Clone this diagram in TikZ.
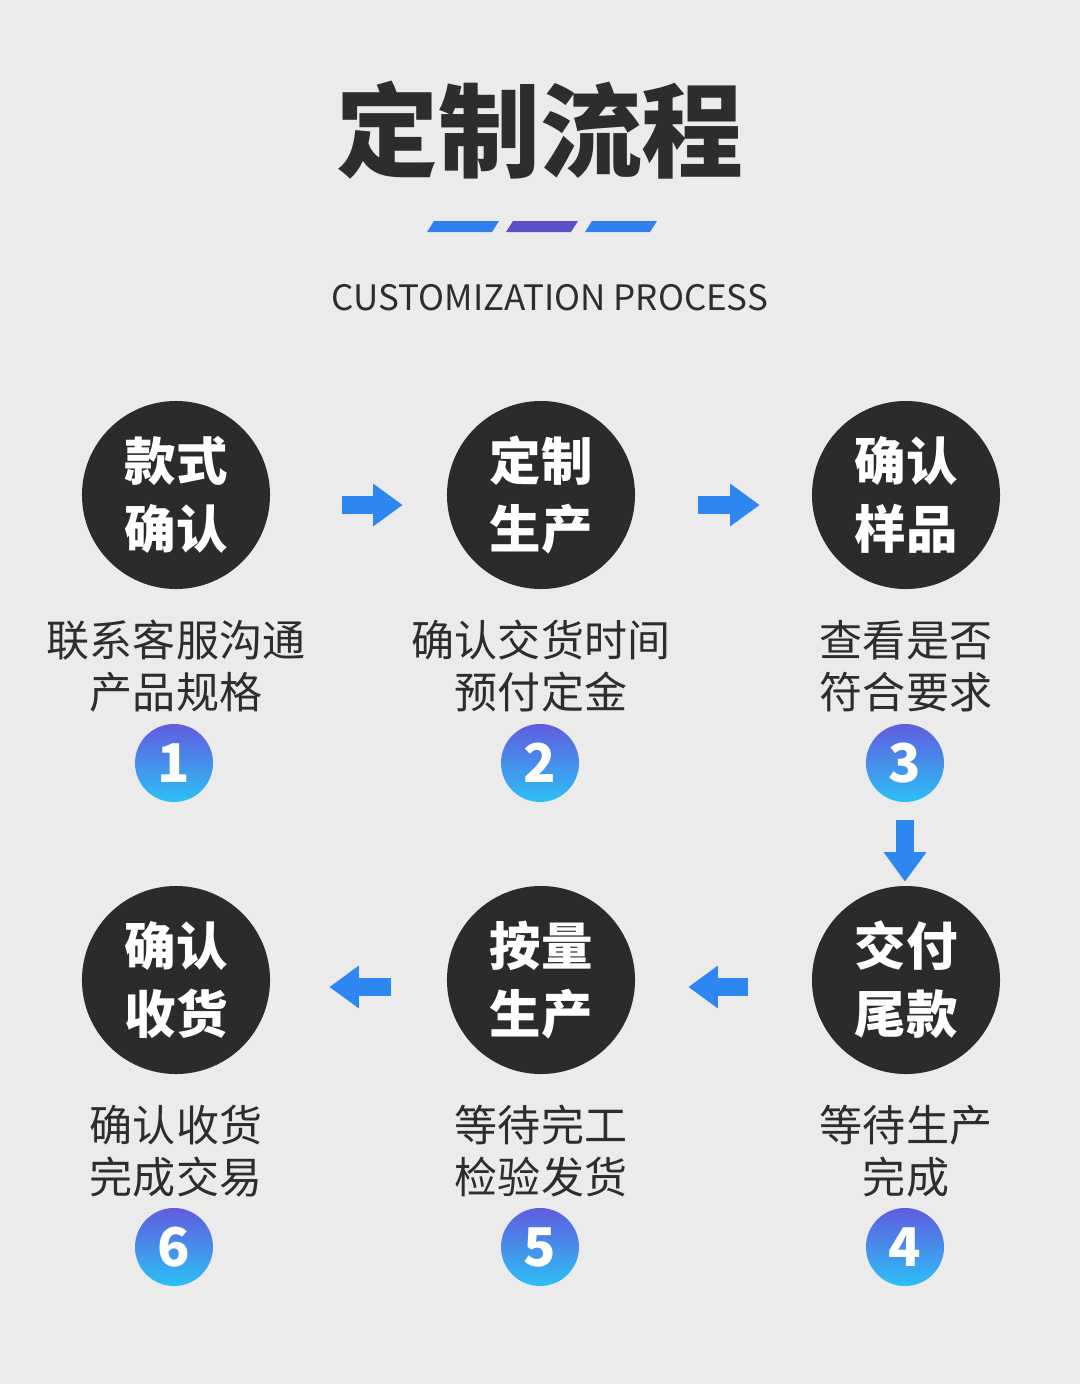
\documentclass[tikz,border=0pt]{standalone}
\usepackage{fontspec}
\setmainfont{Noto Sans CJK SC}
\usetikzlibrary{arrows.meta, positioning}

\definecolor{bgcol}{RGB}{235,235,235}
\definecolor{ink}{RGB}{43,43,43}
\definecolor{txtcol}{RGB}{45,45,45}
\definecolor{arrowblue}{RGB}{46,134,240}
\definecolor{barblue}{RGB}{47,128,237}
\definecolor{barpurple}{RGB}{92,80,200}
\definecolor{badgetop}{RGB}{96,92,222}
\definecolor{badgebot}{RGB}{44,192,246}

\begin{document}
\begin{tikzpicture}[
    x=0.025cm, y=-0.025cm,
    stagecirc/.style={circle, fill=ink, minimum size=4.7cm, inner sep=0pt, text=white,
                      align=center, font=\fontsize{36.6}{48.4}\selectfont\bfseries},
    desc/.style={align=center, text=txtcol, font=\fontsize{30.6}{37}\selectfont},
    badge/.style={circle, minimum size=1.95cm, inner sep=0pt, top color=badgetop,
                  bottom color=badgebot, text=white, font=\fontsize{38}{38}\selectfont\bfseries},
    flow/.style={draw=arrowblue, line width=0.45cm, -{Triangle[length=0.74cm, width=1.02cm]}}
]
\fill[bgcol] (0,0) rectangle (1080,1384);
\useasboundingbox (0,0) rectangle (1080,1384);

\node[text=txtcol, font=\fontsize{72.5}{72.5}\selectfont\bfseries] (title) at (540,130) {定制流程};
\fill[barblue] (427,232) -- (434,221) -- (499,221) -- (492,232) -- cycle;
\fill[barpurple] (506,232) -- (513,221) -- (578,221) -- (571,232) -- cycle;
\fill[barblue] (585,232) -- (592,221) -- (657,221) -- (650,232) -- cycle;
\node[text=txtcol, font=\fontsize{24.9}{24.9}\selectfont] (subtitle) at (550,298) {CUSTOMIZATION PROCESS};

\node[stagecirc] (c1) at (176,495) {款式\\确认};
\node[stagecirc] (c2) at (541,495) {定制\\生产};
\node[stagecirc] (c3) at (906,495) {确认\\样品};
\node[stagecirc] (c4) at (906,980) {交付\\尾款};
\node[stagecirc] (c5) at (541,980) {按量\\生产};
\node[stagecirc] (c6) at (176,980) {确认\\收货};

\node[desc] (d1) at (176,666) {联系客服沟通\\产品规格};
\node[desc] (d2) at (541,666) {确认交货时间\\预付定金};
\node[desc] (d3) at (906,666) {查看是否\\符合要求};
\node[desc] (d4) at (906,1151) {等待生产\\完成};
\node[desc] (d5) at (541,1151) {等待完工\\检验发货};
\node[desc] (d6) at (176,1151) {确认收货\\完成交易};

\node[badge] (n1) at (174,763) {1};
\node[badge] (n2) at (540,763) {2};
\node[badge] (n3) at (905,763) {3};
\node[badge] (n4) at (905,1247) {4};
\node[badge] (n5) at (540,1247) {5};
\node[badge] (n6) at (174,1247) {6};

\draw[flow, shorten <=1.8cm, shorten >=1.1cm] ([yshift=-0.25cm]c1.east) -- ([yshift=-0.25cm]c2.west);
\draw[flow, shorten <=1.575cm, shorten >=1.3cm] ([yshift=-0.25cm]c2.east) -- ([yshift=-0.25cm]c3.west);
\draw[flow, shorten <=0.45cm, shorten >=0.1cm] (n3.south) -- (n3.south |- c4.north);
\draw[flow, shorten <=1.6cm, shorten >=1.325cm] ([yshift=-0.175cm]c4.west) -- ([yshift=-0.175cm]c5.east);
\draw[flow, shorten <=1.4cm, shorten >=1.475cm] ([yshift=-0.175cm]c5.west) -- ([yshift=-0.175cm]c6.east);
\end{tikzpicture}
\end{document}
